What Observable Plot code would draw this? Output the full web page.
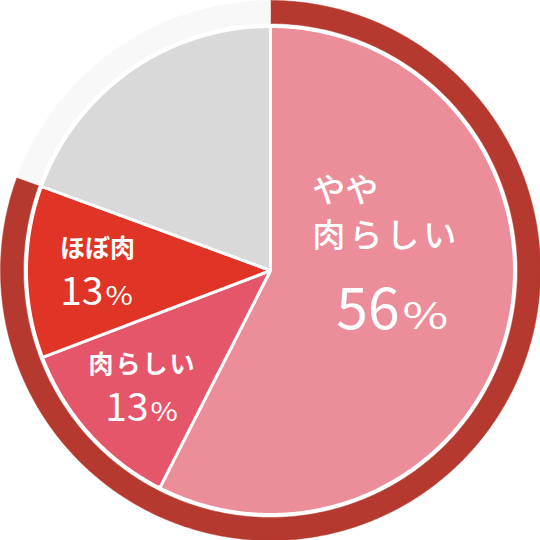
<!DOCTYPE html>
<html><head><meta charset="utf-8">
<script src="https://cdn.jsdelivr.net/npm/d3@7"></script>
<script src="https://cdn.jsdelivr.net/npm/@observablehq/plot@0.6"></script>
<style>body{margin:0;background:#fff}#chart svg{display:block}</style>
</head><body><div id="chart"></div>
<script>
// ---- data ----
const categories = ["やや肉らしい", "肉らしい", "ほぼ肉", "その他"];
const shares = [57.5, 11.7, 11.4, 19.4];           // drawn angular shares (%)
const percentLabels = ["56%", "13%", "13%", ""];
const nameLabels = ["やや\n肉らしい", "肉らしい", "ほぼ肉", ""];
const sliceColors = ["#ec8d9a", "#e6566a", "#e03426", "#d9d9d9"];
const ringColors = ["#b5392f", "#f8f8f8"];        // meat-like group / rest

// ---- geometry helpers ----
const R = 244, RI = 247, RO = 270;
function polar(deg, r) { const a = deg * Math.PI / 180; return {x: r * Math.sin(a), y: r * Math.cos(a)}; }
function arcPts(a0, a1, r) {
  const n = Math.max(2, Math.ceil((a1 - a0) / 0.5));
  return d3.range(n + 1).map(i => polar(a0 + (a1 - a0) * i / n, r));
}
let acc = 0;
const slices = shares.map((s, i) => {
  const a0 = acc / 100 * 360; acc += s; const a1 = acc / 100 * 360;
  return {i, name: categories[i], a0, a1, mid: (a0 + a1) / 2};
});
const ringSplit = slices[2].a1;
const ringSegs = [[0, ringSplit, ringColors[0]], [ringSplit, 360, ringColors[1]]];

const ringMarks = ringSegs.map(([a0, a1, c]) => {
  const outer = arcPts(a0, a1, RO), inner = arcPts(a0, a1, RI).reverse();
  const pts = [...outer, ...inner, outer[0]];
  return Plot.line(pts, {x: "x", y: "y", fill: c, stroke: c, strokeWidth: 0.5});
});
const pieMarks = slices.map(s => {
  const pts = [{x: 0, y: 0}, ...arcPts(s.a0, s.a1, R), {x: 0, y: 0}];
  return Plot.line(pts, {x: "x", y: "y", fill: sliceColors[s.i], stroke: "#ffffff", strokeWidth: 3, strokeLinejoin: "round"});
});

const font = "'Noto Sans CJK JP', 'Noto Sans', sans-serif";
const small = [1, 2].map(i => ({...polar(slices[i].mid, 176), name: nameLabels[i], pct: percentLabels[i]}));
const big = [{...polar(slices[0].mid, 120), name: nameLabels[0], pct: percentLabels[0]}];

const chart = Plot.plot({
  width: 540, height: 540,
  margin: 0,
  x: {domain: [-270, 270], axis: null},
  y: {domain: [-270, 270], axis: null},
  style: {background: "#fff"},
  marks: [
    ...ringMarks,
    ...pieMarks,
    Plot.text(small, {x: "x", y: "y", text: "name", dx: 3, dy: -15, lineAnchor: "bottom", fill: "#fff", fontSize: 25, fontWeight: 700, fontFamily: font}),
    Plot.text(small, {x: "x", y: "y", text: "pct", dx: 2, dy: 33, lineAnchor: "bottom", fill: "#fff", fontSize: 39, fontWeight: 400, fontFamily: font}),
    Plot.text(big, {x: "x", y: "y", text: "name", dx: -75, dy: -52, textAnchor: "start", lineAnchor: "bottom", lineHeight: 1.36, fill: "#fff", fontSize: 33, fontWeight: 500, fontFamily: font}),
    Plot.text(big, {x: "x", y: "y", text: "pct", dx: 5, dy: 30, lineAnchor: "bottom", fill: "#fff", fontSize: 57, fontWeight: 400, fontFamily: font})
  ]
});

// squat, wide "%" sign like the original; letter spacing on 肉らしい
chart.querySelectorAll("text, tspan").forEach(el => {
  if (el.childNodes.length === 1 && el.firstChild.nodeType === 3) {
    const txt = el.textContent;
    const m = txt.match(/^(\d+)%$/);
    if (m) {
      const fs = parseFloat(el.closest("[font-size]").getAttribute("font-size"));
      el.textContent = m[1];
      const t = document.createElementNS("http://www.w3.org/2000/svg", "tspan");
      t.setAttribute("font-size", (fs * 0.64).toFixed(1));
      t.setAttribute("dx", (fs * 0.05).toFixed(1));
      t.setAttribute("textLength", (fs * (fs > 45 ? 0.8 : 0.7)).toFixed(1));
      t.setAttribute("lengthAdjust", "spacingAndGlyphs");
      t.textContent = "%";
      el.appendChild(t);
    } else if (txt === "肉らしい") {
      const fs = parseFloat(el.closest("[font-size]").getAttribute("font-size"));
      el.setAttribute("letter-spacing", fs > 30 ? "4" : "2");
    }
  }
});
document.getElementById("chart").appendChild(chart);
</script>
</body></html>
